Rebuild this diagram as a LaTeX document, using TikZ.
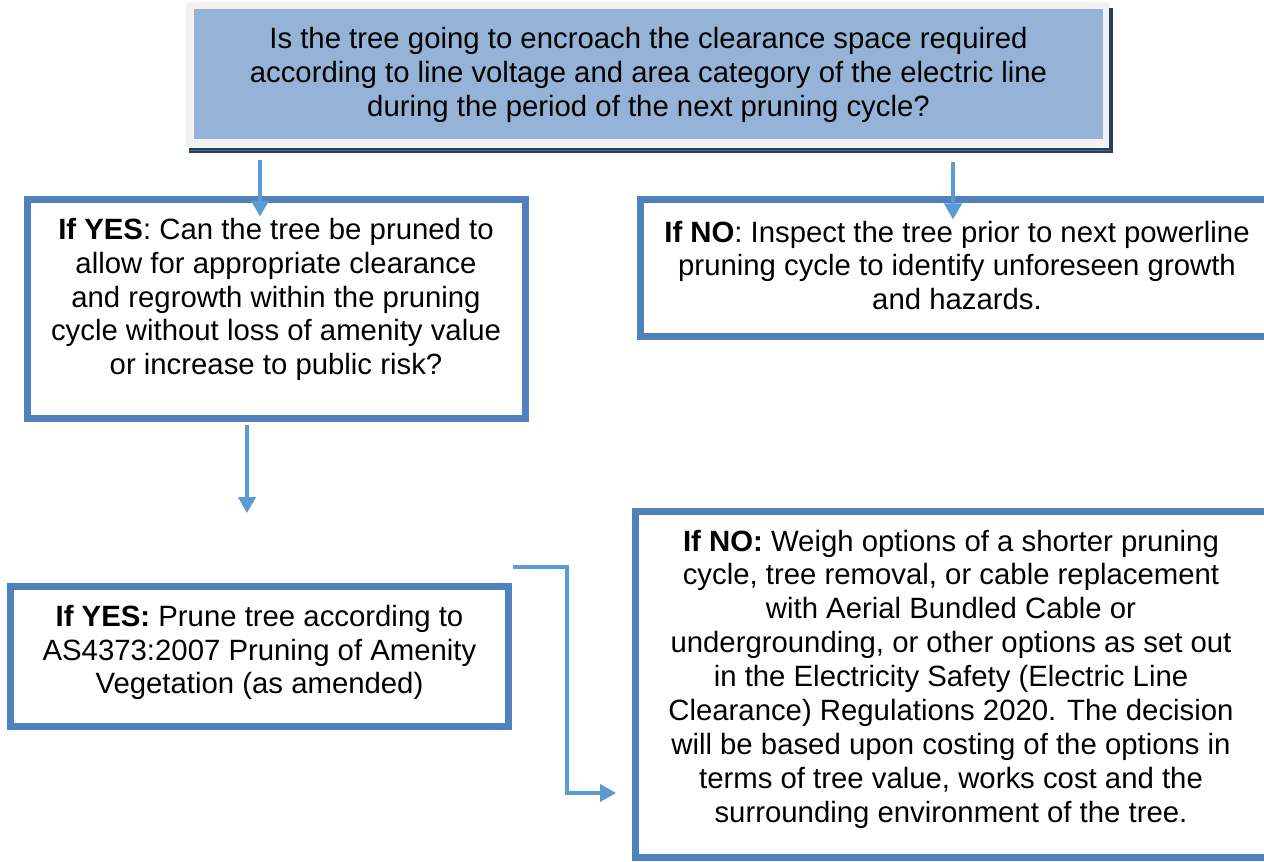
\documentclass[tikz,border=0pt]{standalone}
\usepackage{fontspec}
\setmainfont{Liberation Sans}
\usetikzlibrary{arrows.meta}
\definecolor{boxblue}{HTML}{4F81BD}
\definecolor{fillblue}{HTML}{95B3D7}
\definecolor{arrowblue}{HTML}{5B9BD5}
\definecolor{navy}{HTML}{243F60}
\definecolor{navylight}{HTML}{4A6A94}
\definecolor{framegray}{HTML}{F2F2F2}
\begin{document}
\begin{tikzpicture}[x=0.75pt,y=-0.75pt,
  font=\fontsize{22pt}{25.4pt}\selectfont,
  flowbox/.style={draw=boxblue, line width=5.25pt, inner sep=0pt, fill=white},
  txt/.style={align=center, inner sep=0pt},
  arr/.style={draw=arrowblue, line width=2.4pt, -{Triangle[width=13pt,length=12pt]}}]
\useasboundingbox (0,0) rectangle (1264,861);
\clip (0,0) rectangle (1264,861);
% top question box with frame and shadow
\fill[framegray] (186,2) rectangle (1110,147);
\fill[navy] (189,148) rectangle (1113,153);
\fill[navy] (1109,8) rectangle (1113,153);
\draw[navylight, line width=0.6pt] (189,150.5) -- (1111,150.5);
\node[fill=fillblue, inner sep=0pt, minimum width=681.75pt, minimum height=97.5pt] (q) at (648.5,74) {};
\node[txt] (tq) at (648.5,75) {Is the tree going to encroach the clearance space required\\according to line voltage and area category of the electric line\\during the period of the next pruning cycle?};
% boxes
\node[flowbox, minimum width=373.5pt, minimum height=164.25pt] (ya) at (276.5,309) {};
\node[txt] (tya) at (276,299.5) {\textbf{If YES}: Can the tree be pruned to\\allow for appropriate clearance\\and regrowth within the pruning\\cycle without loss of amenity value\\or increase to public risk?};
\node[flowbox, minimum width=484.5pt, minimum height=102.75pt] (nb) at (963.5,268) {};
\node[txt] (tnb) at (957,265.5) {\textbf{If NO}: Inspect the tree prior to next powerline\\pruning cycle to identify unforeseen growth\\and hazards.};
\node[flowbox, minimum width=373.5pt, minimum height=105pt] (yc) at (259.5,656.5) {};
\node[txt] (tyc) at (259.5,652.5) {\textbf{If YES:} Prune tree according to\\AS4373:2007 Pruning of Amenity\\Vegetation (as amended)};
\node[flowbox, minimum width=488.25pt, minimum height=259.5pt] (nd) at (961,684.5) {};
\node[txt] (tnd) at (951,679) {\textbf{If NO:} Weigh options of a shorter pruning\\cycle, tree removal, or cable replacement\\with Aerial Bundled Cable or\\undergrounding, or other options as set out\\in the Electricity Safety (Electric Line\\Clearance) Regulations 2020. The decision\\will be based upon costing of the options in\\terms of tree value, works cost and the\\surrounding environment of the tree.};
% connectors
\coordinate (s1) at (260,160);
\coordinate (s2) at (953,162);
\coordinate (t3) at (247,513);
\coordinate (s4) at (513,567);
\coordinate (t4) at (616,793);
\draw[arr] (s1) -- ([yshift=-15.4pt]ya.north -| s1);
\draw[arr] (s2) -- ([yshift=-17.6pt]nb.north -| s2);
\draw[arr] ([yshift=-2.6pt]ya.south -| t3) -- (t3);
\draw[arr] (s4) -- ++(54,0) |- (t4);
\end{tikzpicture}
\end{document}
